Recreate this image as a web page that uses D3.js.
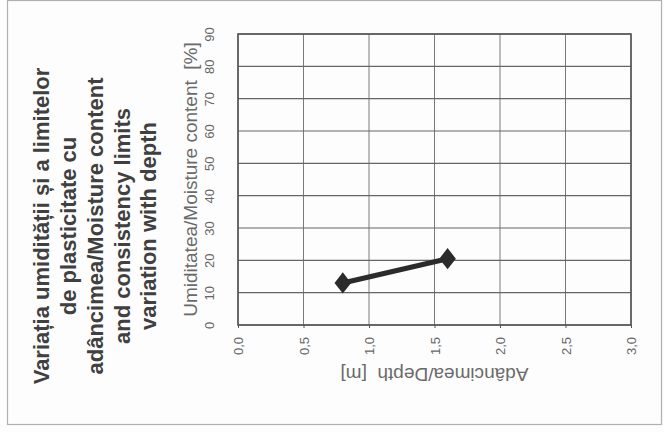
<!DOCTYPE html>
<html><head><meta charset="utf-8">
<script src="https://cdn.jsdelivr.net/npm/d3@7"></script>
<style>body{margin:0;background:#fff}svg{display:block}text{white-space:pre}</style>
</head><body>
<script>
const depth = [0.8, 1.6];
const moisture = [13.0, 20.5];
const depthTicks = [0, 0.5, 1.0, 1.5, 2.0, 2.5, 3.0];
const moistureTicks = [0, 10, 20, 30, 40, 50, 60, 70, 80, 90];
const titleLines = ["Variația umidității și a limitelor", "de plasticitate cu", "adâncimea/Moisture content", "and consistency limits", "variation with depth"];
const moistureTitle = "Umiditatea/Moisture content  [%]";
const depthTitle = "Adâncimea/Depth  [m]";

const W = 664, H = 432;
const svg = d3.select("body").append("svg").attr("width", W).attr("height", H);
svg.append("rect").attr("width", W).attr("height", H).attr("fill", "#fdfdfd");
// outer frame
svg.append("rect").attr("x", 7.5).attr("y", 0.5).attr("width", 654).attr("height", 424)
  .attr("fill", "none").attr("stroke", "#b0b0b0").attr("stroke-width", 1.2);

const x = d3.scaleLinear().domain([0, 3]).range([238, 631]);
const y = d3.scaleLinear().domain([0, 90]).range([325, 34]);
const font = "'Liberation Sans', Arial, sans-serif";

// grid
const g = svg.append("g");
g.selectAll("line.v").data(depthTicks).join("line").attr("class","v")
  .attr("x1", d => x(d)).attr("x2", d => x(d)).attr("y1", y(0)).attr("y2", y(90))
  .attr("stroke", "#7a7a7a").attr("stroke-width", 1);
g.selectAll("line.h").data(moistureTicks).join("line").attr("class","h")
  .attr("x1", x(0)).attr("x2", x(3)).attr("y1", d => y(d)).attr("y2", d => y(d))
  .attr("stroke", "#666").attr("stroke-width", 1.2);
g.append("rect").attr("x", x(0)).attr("y", y(90)).attr("width", x(3)-x(0)).attr("height", y(0)-y(90))
  .attr("fill", "none").attr("stroke", "#555").attr("stroke-width", 1.6);

// depth axis (bottom)
const fmt = d => d3.format(".1f")(d).replace(".", ",");
const ax = d3.axisBottom(x).tickValues(depthTicks).tickFormat(fmt).tickSize(3);
const axG = svg.append("g").attr("transform", `translate(0,${y(0)})`).call(ax);
axG.select(".domain").remove();
axG.selectAll(".tick line").attr("stroke", "#555");
axG.selectAll(".tick text").attr("font-family", font).attr("font-size", 13).attr("fill", "#666")
  .attr("transform", "rotate(-90)").attr("text-anchor", "end").attr("x", -12).attr("y", 0).attr("dy", "0.35em");

// moisture axis (left)
const ay = d3.axisLeft(y).tickValues(moistureTicks).tickSize(0);
const ayG = svg.append("g").attr("transform", `translate(${x(0)},0)`).call(ay);
ayG.select(".domain").remove();
ayG.selectAll(".tick text").attr("font-family", font).attr("font-size", 13).attr("fill", "#666")
  .attr("transform", "rotate(-90)").attr("text-anchor", "middle").attr("x", 0).attr("y", -24).attr("dy", 0);

// axis titles
svg.append("text").attr("transform", `translate(197,${(y(0)+y(90))/2}) rotate(-90)`)
  .attr("text-anchor", "middle").attr("font-family", font).attr("font-size", 19).attr("fill", "#6a6a6a")
  .text(moistureTitle);
svg.append("text").attr("transform", `translate(${(x(0)+x(3))/2},368) rotate(180)`)
  .attr("text-anchor", "middle").attr("font-family", font).attr("font-size", 19).attr("fill", "#6a6a6a")
  .text(depthTitle);

// title
const tb = [49, 76, 103, 130, 156];
svg.selectAll("text.title").data(titleLines).join("text").attr("class","title")
  .attr("transform", (d,i) => `translate(${tb[i]},226) rotate(-90)`)
  .attr("text-anchor", "middle").attr("font-family", font).attr("font-size", 22).attr("font-weight", "bold")
  .attr("fill", "#404040").text(d => d);

// data
const pts = depth.map((d,i) => [d, moisture[i]]);
svg.append("path").datum(pts)
  .attr("d", d3.line().x(d => x(d[0])).y(d => y(d[1])))
  .attr("fill", "none").attr("stroke", "#2b2b2b").attr("stroke-width", 5);
svg.selectAll("path.m").data(pts).join("path").attr("class","m")
  .attr("d", d3.symbol(d3.symbolDiamond, 130)())
  .attr("transform", d => `translate(${x(d[0])},${y(d[1])}) scale(1.35,1)`)
  .attr("fill", "#2b2b2b");
</script>
</body></html>
